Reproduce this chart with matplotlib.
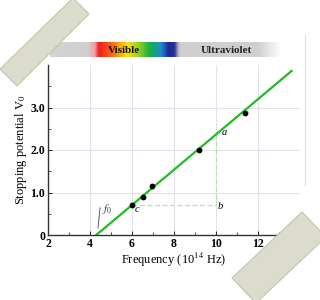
import matplotlib.pyplot as plt
from matplotlib.patches import Polygon
from matplotlib.colors import LinearSegmentedColormap
import numpy as np

# measured points (frequency in 1e14 Hz, stopping potential in V)
freq = [6.0, 6.5, 6.95, 9.2, 11.4]
volts = [0.71, 0.89, 1.15, 2.0, 2.88]

# fitted line end points
line_x = [4.3, 13.6]
line_y = [0.0, 3.86]

# construction lines for the slope
dash_x = [6.0, 10.0, 10.0]
dash_y = [0.71, 0.71, 2.37]

xticks = [2, 4, 6, 8, 10, 12]
yticks = [0, 1, 2, 3]
ytick_labels = ['0', '1.0', '2.0', '3.0']

W, H = 320, 300
serif = ['Liberation Serif', 'DejaVu Serif']
plt.rcParams['mathtext.fontset'] = 'stix'

fig = plt.figure(figsize=(3.2, 3.0), dpi=100)
fig.patch.set_facecolor('white')


def box(x0, y0, x1, y1):
    # pixel box (top-left origin) -> figure fraction
    return [x0 / W, 1 - y1 / H, (x1 - x0) / W, (y1 - y0) / H]


# spectrum band
band = fig.add_axes(box(50, 42, 282, 57))
cmap = LinearSegmentedColormap.from_list('spec', [
    (0.00, '#d4d4d4'), (0.16, '#cfcfcf'), (0.19, '#f4a0a0'), (0.21, '#ee1c24'),
    (0.27, '#ff6a10'), (0.33, '#ffe000'), (0.38, '#9ad21e'), (0.43, '#16b040'),
    (0.48, '#1e8ad0'), (0.51, '#1a2a9a'), (0.535, '#26309a'), (0.56, '#cfcfcf'),
    (0.90, '#d0d0d0'), (1.00, '#ffffff')])
band.imshow(np.linspace(0, 1, 300)[None, :], aspect='auto', cmap=cmap,
            extent=[0, 1, 0, 1])
band.set_axis_off()
band.text(0.32, 0.45, 'Visible', ha='center', va='center', fontsize=8,
          fontweight='bold', family=serif, color='#111111')
band.text(0.76, 0.45, 'Ultraviolet', ha='center', va='center', fontsize=8,
          fontweight='bold', family=serif, color='#222222')

ax = fig.add_axes(box(48, 65, 300, 235))
ax.set_xlim(2, 14)
ax.set_ylim(0, 4)
ax.grid(True, color='#e2e2ea', lw=0.8)
ax.set_axisbelow(True)

ax.plot(dash_x, dash_y, color='#a8eca8', lw=0.9, ls=(0, (4, 2)))
ax.plot(line_x, line_y, color='#22bb22', lw=1.6)
ax.scatter(freq, volts, s=10, color='black', zorder=3)

ax.plot([4.38, 4.48], [0.16, 0.64], color='#444444', lw=0.6)
ax.text(4.55, 0.55, '$f_0$', fontsize=8, color='#333333')
ax.text(10.25, 2.35, 'a', fontsize=7.5, style='italic', family=serif)
ax.text(10.1, 0.62, 'b', fontsize=7.5, style='italic', family=serif)
ax.text(6.15, 0.55, 'c', fontsize=7.5, style='italic', family=serif)

ax.set_xticks(xticks)
ax.set_yticks(yticks)
ax.set_yticklabels(ytick_labels)
ax.set_xticks([3, 5, 7, 9, 11, 13], minor=True)
ax.set_yticks([0.5, 1.5, 2.5, 3.5], minor=True)
ax.tick_params(direction='in', length=3, width=0.6, labelsize=8.5, pad=2)
ax.tick_params(which='minor', direction='in', length=2, width=0.5)
for lab in ax.get_xticklabels() + ax.get_yticklabels():
    lab.set_family(serif)
    lab.set_fontweight('bold')

for s in ['top', 'right']:
    ax.spines[s].set_visible(False)
for s in ['left', 'bottom']:
    ax.spines[s].set_color('#333333')
    ax.spines[s].set_linewidth(1.0)

ax.set_xlabel('Frequency (10$^{14}$ Hz)', fontsize=9, family=serif, labelpad=1)
ax.set_ylabel('Stopping potential V$_{\\mathrm{0}}$', fontsize=9, family=serif,
              labelpad=1)

# tape pieces
tape_ul = [(73, -2), (89, 14), (17, 86), (0, 69)]
tape_lr = [(232, 278), (302, 212), (326, 237), (256, 303)]
for pts in (tape_ul, tape_lr):
    poly = Polygon([(x / W, 1 - y / H) for x, y in pts], closed=True,
                   transform=fig.transFigure, facecolor='#dcdccc',
                   edgecolor='#c4c4b4', lw=0.8, zorder=10)
    fig.add_artist(poly)

# faint page edge on the right
fig.add_artist(plt.Line2D([305 / W, 305 / W], [1 - 35 / H, 1 - 185 / H],
                          transform=fig.transFigure, color='#dddddd', lw=0.8))

fig.savefig('out.png', dpi=100)
